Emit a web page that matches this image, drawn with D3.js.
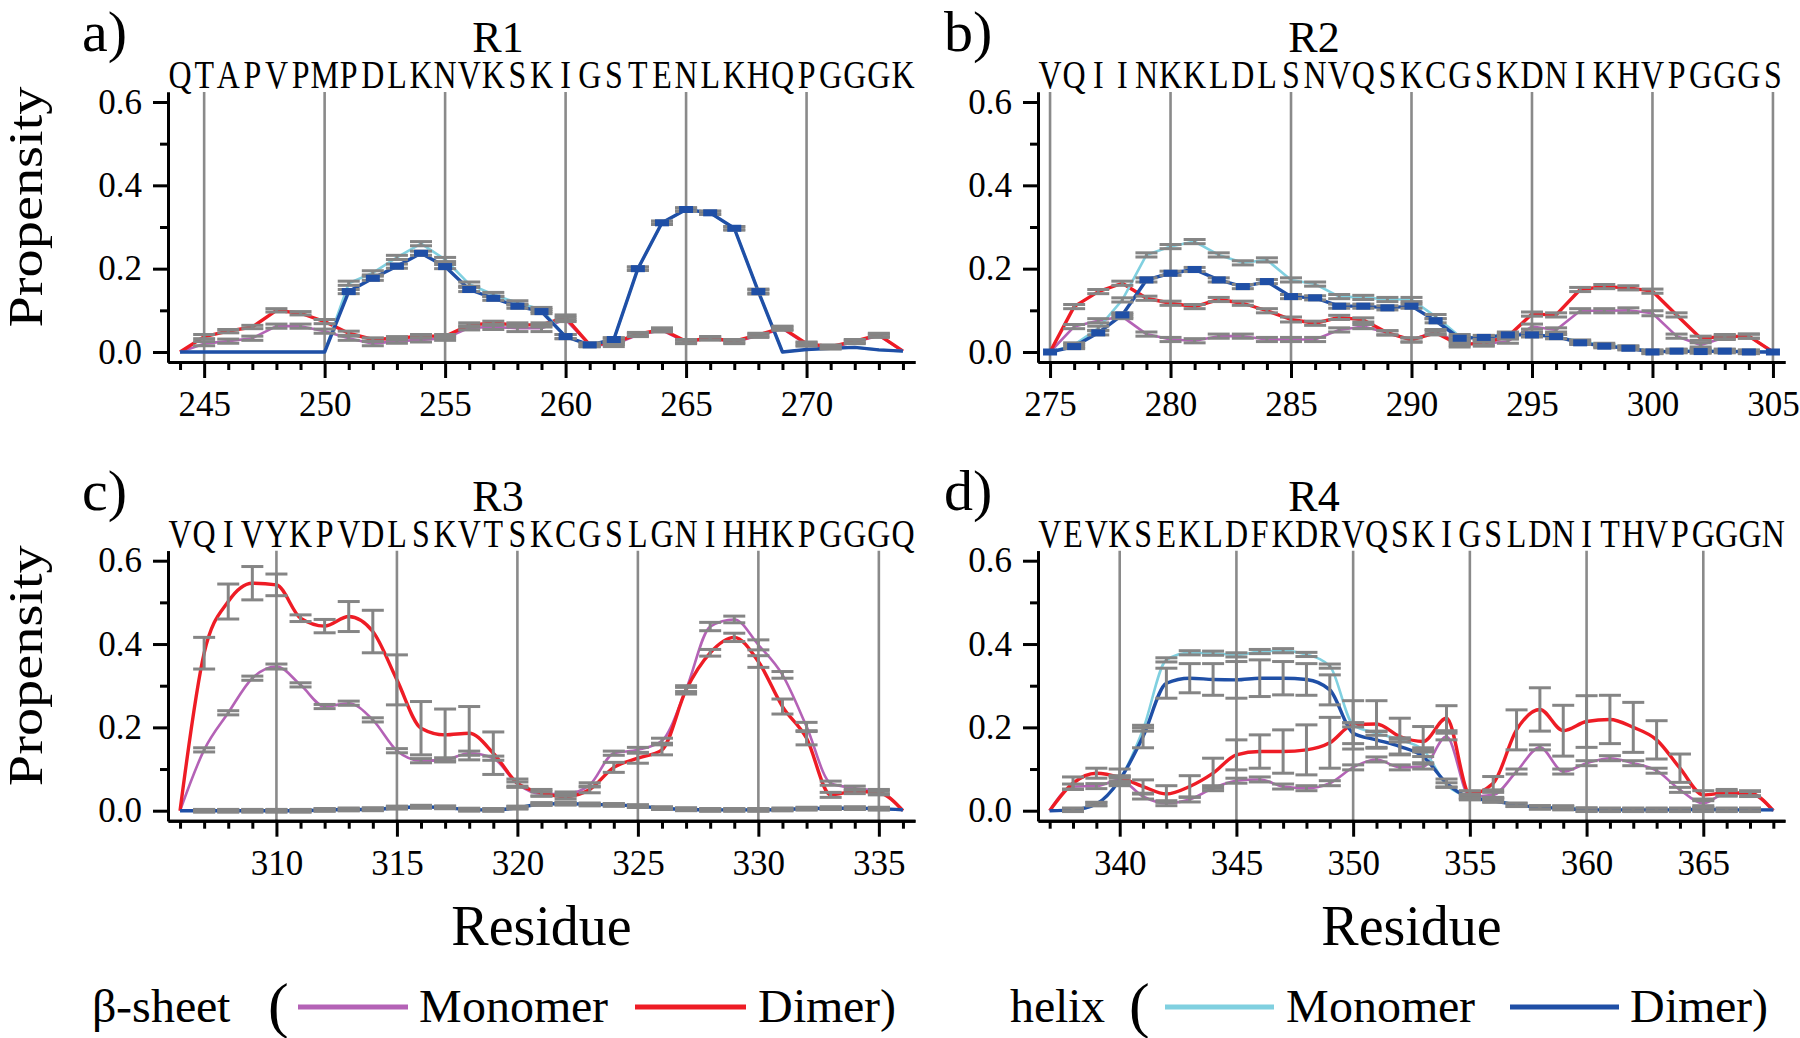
<!DOCTYPE html>
<html><head><meta charset="utf-8">
<script src="https://cdn.jsdelivr.net/npm/d3@7"></script>
<style>
@font-face { font-family: "RefSerif"; src: local("Liberation Serif"), local("LiberationSerif"), local("Liberation Serif Regular"), local("LiberationSerif-Regular"); }
</style>
</head><body style="margin:0">
<svg id="chart" width="1800" height="1038"></svg>
<script>
// ---------------- DATA ----------------
const seqR1 = "QTAPVPMPDLKNVKSKIGSTENLKHQPGGGK"; // residues 244-274
const seqR2 = "VQIINKKLDLSNVQSKCGSKDNIKHVPGGGS"; // residues 275-305
const seqR3 = "VQIVYKPVDLSKVTSKCGSLGNIHHKPGGGQ"; // residues 306-336
const seqR4 = "VEVKSEKLDFKDRVQSKIGSLDNITHVPGGGN"; // residues 337-368

const startR1 = 244, startR2 = 275, startR3 = 306, startR4 = 337;
const yTickLabels = [0.0, 0.2, 0.4, 0.6];
const yMinorTicks = [0.1, 0.3, 0.5];

// R1
const betaMonR1 = [0,0.02,0.026,0.033,0.062,0.062,0.05,0.033,0.02,0.026,0.029,0.033,0.058,0.06,0.057,0.057,0.078,0.017,0.017,0.041,0.052,0.024,0.033,0.024,0.039,0.056,0.018,0.011,0.024,0.039,0.002];
const betaDimR1 = [0,0.037,0.05,0.06,0.1,0.093,0.073,0.045,0.03,0.033,0.038,0.038,0.065,0.069,0.065,0.065,0.083,0.017,0.022,0.043,0.054,0.026,0.033,0.026,0.041,0.058,0.02,0.013,0.026,0.041,0.002];
const helixMonR1 = [0,0,0,0,0,0,0,0.165,0.19,0.227,0.26,0.222,0.163,0.138,0.118,0.102,0.037,0.017,0.03,0.2,0.31,0.342,0.334,0.297,0.145,0.0,0.006,0.009,0.011,0.005,0.002];
const helixDimR1 = [0,0,0,0,0,0,0,0.145,0.177,0.206,0.237,0.205,0.15,0.129,0.11,0.097,0.037,0.017,0.03,0.2,0.31,0.342,0.334,0.297,0.145,0.0,0.006,0.009,0.011,0.005,0.002];
const errBetaMonR1 = [null,0.005,0.005,0.005,0.005,0.005,0.005,0.005,0.005,0.005,0.005,0.005,0.005,0.006,0.008,0.008,0.005,0.004,0.004,0.004,0.004,0.004,0.004,0.004,0.004,0.004,0.004,0.004,0.004,0.004,null];
const errBetaDimR1 = [null,0.005,0.004,0.004,0.004,0.004,0.005,0.005,0.004,0.004,0.004,0.004,0.005,0.005,0.005,0.005,0.006,0.004,0.004,0.004,0.004,0.004,0.004,0.004,0.004,0.004,0.004,0.004,0.004,0.004,null];
const errHelixMonR1 = [null,null,null,null,null,null,null,0.005,0.005,0.005,0.005,0.005,0.005,0.005,0.005,0.005,0.005,0.004,0.004,0.004,0.004,0.004,0.004,0.004,0.004,null,null,null,null,null,null];
const errHelixDimR1 = [null,null,null,null,null,null,null,0.005,0.005,0.005,0.005,0.005,0.005,0.005,0.005,0.005,0.005,0.004,0.004,0.004,0.004,0.004,0.004,0.004,0.006,null,null,null,null,null,null];

// R2
const betaMonR2 = [0,0.061,0.075,0.085,0.043,0.03,0.027,0.038,0.038,0.03,0.03,0.03,0.053,0.061,0.046,0.029,0.049,0.021,0.019,0.026,0.061,0.053,0.099,0.099,0.1,0.093,0.038,0.017,0.035,0.038,0];
const betaDimR2 = [0,0.109,0.145,0.165,0.129,0.117,0.109,0.126,0.117,0.099,0.078,0.069,0.083,0.077,0.046,0.029,0.046,0.017,0.022,0.037,0.091,0.089,0.15,0.157,0.154,0.146,0.089,0.033,0.037,0.038,0];
const helixMonR2 = [0,0.017,0.057,0.125,0.233,0.253,0.265,0.233,0.214,0.221,0.173,0.163,0.133,0.131,0.126,0.126,0.085,0.037,0.034,0.043,0.043,0.037,0.025,0.017,0.011,0.001,0.003,0.003,0.003,0.001,0.001];
const helixDimR2 = [0,0.013,0.046,0.089,0.173,0.189,0.198,0.173,0.157,0.169,0.133,0.13,0.11,0.11,0.106,0.11,0.075,0.033,0.035,0.041,0.041,0.037,0.022,0.014,0.009,0,0.002,0.001,0.002,0,0];
const errBetaMonR2 = [null,0.005,0.005,0.005,0.005,0.005,0.005,0.005,0.005,0.005,0.005,0.005,0.005,0.005,0.005,0.005,0.005,0.005,0.005,0.005,0.006,0.005,0.005,0.005,0.006,0.006,0.005,0.005,0.005,0.005,null];
const errBetaDimR2 = [null,0.005,0.005,0.005,0.005,0.005,0.005,0.005,0.005,0.005,0.006,0.005,0.005,0.005,0.005,0.005,0.005,0.005,0.005,0.005,0.005,0.005,0.005,0.005,0.005,0.005,0.005,0.005,0.005,0.005,null];
const errHelixMonR2 = [null,0.005,0.005,0.005,0.005,0.005,0.005,0.005,0.005,0.005,0.005,0.005,0.005,0.005,0.005,0.005,0.005,0.005,0.005,0.005,0.005,0.005,0.004,0.004,0.004,0.004,0.004,0.004,0.004,0.004,null];
const errHelixDimR2 = [null,0.005,0.005,0.005,0.005,0.005,0.005,0.005,0.005,0.005,0.005,0.005,0.005,0.005,0.005,0.005,0.005,0.005,0.005,0.005,0.005,0.005,0.004,0.004,0.004,0.004,0.004,0.004,0.004,0.004,null];

// R3
const betaMonR3 = [0,0.146,0.235,0.318,0.346,0.302,0.25,0.258,0.218,0.144,0.12,0.122,0.138,0.126,0.064,0.04,0.04,0.062,0.138,0.146,0.168,0.291,0.442,0.459,0.398,0.326,0.202,0.066,0.054,0.046,0];
const betaDimR3 = [0,0.378,0.502,0.546,0.542,0.462,0.443,0.466,0.43,0.314,0.198,0.182,0.186,0.138,0.066,0.043,0.034,0.051,0.104,0.126,0.146,0.29,0.379,0.416,0.358,0.25,0.174,0.038,0.046,0.043,0];
const helixMonR3 = [0,0,0,0,0,0,0.002,0.003,0.004,0.008,0.01,0.008,0.003,0.002,0.008,0.016,0.017,0.015,0.014,0.011,0.006,0.004,0.002,0.002,0.002,0.003,0.005,0.006,0.006,0.005,0.002];
const helixDimR3 = [0,0,0,0,0,0,0.002,0.003,0.003,0.007,0.009,0.008,0.002,0.002,0.007,0.016,0.017,0.015,0.014,0.011,0.006,0.003,0.002,0.002,0.002,0.003,0.005,0.006,0.006,0.005,0.002];
const errBetaMonR3 = [null,0.005,0.005,0.005,0.006,0.005,0.005,0.005,0.005,0.005,0.005,0.005,0.005,0.005,0.005,0.005,0.005,0.005,0.005,0.006,0.006,0.005,0.01,0.008,0.012,0.008,0.01,0.005,0.005,0.005,null];
const errBetaDimR3 = [null,0.038,0.042,0.04,0.026,0.008,0.016,0.036,0.051,0.06,0.064,0.062,0.064,0.051,0.01,0.008,0.006,0.008,0.012,0.012,0.012,0.01,0.008,0.01,0.014,0.018,0.016,0.006,0.005,0.005,null];
const errHelixMonR3 = [null,0.003,0.003,0.003,0.003,0.003,0.003,0.003,0.003,0.003,0.003,0.003,0.003,0.003,0.003,0.003,0.003,0.003,0.003,0.003,0.003,0.003,0.003,0.003,0.003,0.003,0.003,0.003,0.003,0.003,null];
const errHelixDimR3 = [null,0.003,0.003,0.003,0.003,0.003,0.003,0.003,0.003,0.003,0.003,0.003,0.003,0.003,0.003,0.003,0.003,0.003,0.003,0.003,0.003,0.003,0.003,0.003,0.003,0.003,0.003,0.003,0.003,0.003,null];

// R4
const betaMonR4 = [0,0.058,0.059,0.074,0.034,0.018,0.027,0.054,0.072,0.075,0.058,0.054,0.066,0.104,0.123,0.104,0.106,0.178,0.034,0.038,0.094,0.152,0.094,0.114,0.126,0.114,0.096,0.05,0.018,0.042,0.04,0];
const betaDimR4 = [0,0.066,0.09,0.08,0.058,0.04,0.058,0.09,0.134,0.142,0.142,0.146,0.163,0.206,0.208,0.178,0.166,0.222,0.04,0.066,0.194,0.243,0.192,0.214,0.219,0.2,0.17,0.102,0.038,0.043,0.042,0];
const helixMonR4 = [0,0.002,0.016,0.074,0.195,0.362,0.379,0.378,0.374,0.382,0.384,0.375,0.347,0.206,0.186,0.17,0.146,0.062,0.034,0.026,0.014,0.008,0.008,0.003,0.002,0.002,0.002,0.002,0.002,0.002,0.002,0.002];
const helixDimR4 = [0,0.002,0.016,0.074,0.178,0.306,0.318,0.315,0.314,0.318,0.318,0.315,0.29,0.186,0.17,0.154,0.13,0.066,0.032,0.024,0.014,0.008,0.006,0.002,0.002,0.002,0.002,0.002,0.004,0.002,0.002,0.002];
const errBetaMonR4 = [null,0.006,0.006,0.008,0.006,0.006,0.006,0.006,0.006,0.006,0.006,0.006,0.006,0.006,0.006,0.006,0.006,0.008,0.006,0.006,0.006,0.006,0.006,0.006,0.006,0.006,0.006,0.006,0.006,0.006,0.006,null];
const errBetaDimR4 = [null,0.015,0.012,0.02,0.016,0.02,0.026,0.036,0.036,0.04,0.052,0.06,0.061,0.058,0.056,0.044,0.036,0.03,0.008,0.016,0.048,0.052,0.061,0.062,0.058,0.06,0.046,0.034,0.01,0.008,0.006,null];
const errHelixMonR4 = [null,0.004,0.004,0.004,0.004,0.005,0.005,0.005,0.005,0.005,0.005,0.005,0.005,0.005,0.005,0.005,0.005,0.005,0.004,0.004,0.004,0.004,0.004,0.004,0.004,0.004,0.004,0.004,0.004,0.004,0.004,null];
const errHelixDimR4 = [null,0.004,0.004,0.01,0.027,0.036,0.035,0.038,0.044,0.044,0.04,0.038,0.036,0.025,0.02,0.018,0.015,0.01,0.006,0.004,0.004,0.004,0.004,0.004,0.004,0.004,0.004,0.004,0.004,0.004,0.004,null];

// ---------------- LAYOUT / STYLE ----------------
// different font specifications per text group
const FONT_SEQ = "serif";
const FONT_TITLE = "Times New Roman";
const FONT_AXIS = "Liberation Serif";
const FONT_LEGEND = "RefSerif";
const FONT_LABEL = "Tinos";
const COLS = [{x0:168, x1:915, titleX:498, labelX:82}, {x0:1038, x1:1785, titleX:1314, labelX:944}];
const ROWS = [{top:92, bottom:362}, {top:550.7, bottom:820.7}];
const Y_DOMAIN = [-0.024, 0.624];
const seriesStyle = [
  {color:'#b462b6', width:2.6},
  {color:'#ee1c25', width:3.4},
  {color:'#80d0e0', width:2.6},
  {color:'#1f4fa6', width:3.4}
];

const panels = [
  {label:'a)', title:'R1', start:startR1, seq:seqR1, col:0, row:0, smooth:false, markerMin:0.012,
   values:[betaMonR1, betaDimR1, helixMonR1, helixDimR1], errs:[errBetaMonR1, errBetaDimR1, errHelixMonR1, errHelixDimR1]},
  {label:'b)', title:'R2', start:startR2, seq:seqR2, col:1, row:0, smooth:false, markerMin:-1,
   values:[betaMonR2, betaDimR2, helixMonR2, helixDimR2], errs:[errBetaMonR2, errBetaDimR2, errHelixMonR2, errHelixDimR2]},
  {label:'c)', title:'R3', start:startR3, seq:seqR3, col:0, row:1, smooth:true, markerMin:null,
   values:[betaMonR3, betaDimR3, helixMonR3, helixDimR3], errs:[errBetaMonR3, errBetaDimR3, errHelixMonR3, errHelixDimR3]},
  {label:'d)', title:'R4', start:startR4, seq:seqR4, col:1, row:1, smooth:true, markerMin:null,
   values:[betaMonR4, betaDimR4, helixMonR4, helixDimR4], errs:[errBetaMonR4, errBetaDimR4, errHelixMonR4, errHelixDimR4]}
];

const svg = d3.select('#chart');
svg.append('rect').attr('width',1800).attr('height',1038).attr('fill','#fff');

function addText(parent, font) {
  return parent.append('text').style('font-family', font);
}

panels.forEach(p => {
  const c = COLS[p.col], r = ROWS[p.row];
  const n = p.seq.length;
  const residues = d3.range(p.start, p.start + n);
  const x = d3.scaleLinear().domain([p.start - 0.5, p.start + n - 0.5]).range([c.x0, c.x1]);
  const y = d3.scaleLinear().domain(Y_DOMAIN).range([r.bottom, r.top]);
  const g = svg.append('g');
  const majors = residues.filter(v => v % 5 === 0);
  const minors = residues.filter(v => v % 5 !== 0);

  g.append('g').selectAll('line').data(majors).join('line')
    .attr('x1', d => x(d)).attr('x2', d => x(d))
    .attr('y1', r.top).attr('y2', r.bottom)
    .attr('stroke', '#8a8a8a').attr('stroke-width', 2.6);

  const line = d3.line()
    .x((d, i) => x(residues[i]))
    .y(d => y(d))
    .curve(p.smooth ? d3.curveMonotoneX : d3.curveLinear);
  p.values.forEach((vals, si) => {
    g.append('path').datum(vals)
      .attr('d', line)
      .attr('fill', 'none')
      .attr('stroke', seriesStyle[si].color)
      .attr('stroke-width', seriesStyle[si].width)
      .attr('stroke-linejoin', 'round');
  });

  const eb = g.append('g').attr('stroke', '#858585').attr('stroke-width', 3);
  p.values.forEach((vals, si) => {
    const errs = p.errs[si];
    vals.forEach((v, i) => {
      const e = errs[i];
      if (e === null || e === undefined) return;
      const cx = x(residues[i]);
      const y1 = y(v + e), y2 = y(v - e);
      eb.append('line').attr('x1', cx).attr('x2', cx).attr('y1', y1).attr('y2', y2);
      eb.append('line').attr('x1', cx - 11).attr('x2', cx + 11).attr('y1', y1).attr('y2', y1);
      eb.append('line').attr('x1', cx - 11).attr('x2', cx + 11).attr('y1', y2).attr('y2', y2);
    });
  });

  if (p.markerMin !== null) {
    const hv = p.values[3];
    g.append('g').selectAll('rect')
      .data(hv.map((v, i) => ({v, res: residues[i]})).filter(d => d.v > p.markerMin))
      .join('rect')
      .attr('x', d => x(d.res) - 7).attr('y', d => y(d.v) - 3.5)
      .attr('width', 14).attr('height', 7)
      .attr('fill', seriesStyle[3].color);
  }

  const styleAxis = sel => {
    sel.attr('color', '#000').attr('font-family', FONT_AXIS).attr('font-size', 35);
    sel.select('.domain').attr('stroke-width', 3);
    sel.selectAll('.tick line').attr('stroke-width', 3);
    sel.selectAll('.tick text').attr('fill', '#000');
  };
  g.append('g').attr('transform', `translate(${c.x0},0)`)
    .call(d3.axisLeft(y).tickValues(yMinorTicks).tickSize(8).tickSizeOuter(0).tickFormat(''))
    .call(styleAxis);
  g.append('g').attr('transform', `translate(${c.x0},0)`)
    .call(d3.axisLeft(y).tickValues(yTickLabels).tickSize(15).tickSizeOuter(0).tickPadding(11).tickFormat(d3.format('.1f')))
    .call(styleAxis);
  g.append('g').attr('transform', `translate(0,${r.bottom})`)
    .call(d3.axisBottom(x).tickValues(minors).tickSize(8).tickSizeOuter(0).tickFormat(''))
    .call(styleAxis);
  g.append('g').attr('transform', `translate(0,${r.bottom})`)
    .call(d3.axisBottom(x).tickValues(majors).tickSize(16).tickSizeOuter(0).tickPadding(13).tickFormat(d3.format('d')))
    .call(styleAxis);

  const seqG = g.append('g');
  p.seq.split('').forEach((ch, i) => {
    addText(seqG, FONT_SEQ)
      .attr('transform', `translate(${x(residues[i])},${r.top - 4}) scale(0.82,1)`)
      .attr('text-anchor', 'middle')
      .attr('font-size', 39)
      .text(ch);
  });

  addText(g, FONT_TITLE).attr('x', c.titleX).attr('y', r.top - 40)
    .attr('text-anchor', 'middle').attr('font-size', 44)
    .text(p.title);
  addText(g, FONT_TITLE).attr('x', c.labelX).attr('y', r.top - 41)
    .attr('font-size', 58)
    .text(p.label);

  if (p.col === 0) {
    addText(g, FONT_LABEL)
      .attr('transform', `translate(42,${(r.top + r.bottom) / 2 - 20}) rotate(-90)`)
      .attr('text-anchor', 'middle')
      .attr('font-size', 48)
      .attr('textLength', 241).attr('lengthAdjust', 'spacingAndGlyphs')
      .text('Propensity');
  }
  if (p.row === 1) {
    addText(g, FONT_LABEL).attr('x', (c.x0 + c.x1) / 2).attr('y', 945)
      .attr('text-anchor', 'middle').attr('font-size', 56)
      .text('Residue');
  }
});

// legend
const legend = svg.append('g');
const legY = 1022, legLineY = 1007;
const legendTexts = [
  {t:'β-sheet', x:92, size:48},
  {t:'(', x:268, size:62},
  {t:'Monomer', x:419, size:48},
  {t:'Dimer)', x:758, size:48},
  {t:'helix', x:1010, size:48},
  {t:'(', x:1129, size:62},
  {t:'Monomer', x:1286, size:48},
  {t:'Dimer)', x:1630, size:48}
];
legendTexts.forEach(d => {
  addText(legend, FONT_LEGEND).attr('x', d.x).attr('y', d.t === '(' ? legY + 4 : legY)
    .attr('font-size', d.size).text(d.t);
});
const legendLines = [
  {x1:298, x2:408, s:0},
  {x1:635, x2:746, s:1},
  {x1:1165, x2:1274, s:2},
  {x1:1510, x2:1619, s:3}
];
legendLines.forEach(d => {
  legend.append('line').attr('x1', d.x1).attr('x2', d.x2).attr('y1', legLineY).attr('y2', legLineY)
    .attr('stroke', seriesStyle[d.s].color).attr('stroke-width', 5);
});
</script>
</body></html>
